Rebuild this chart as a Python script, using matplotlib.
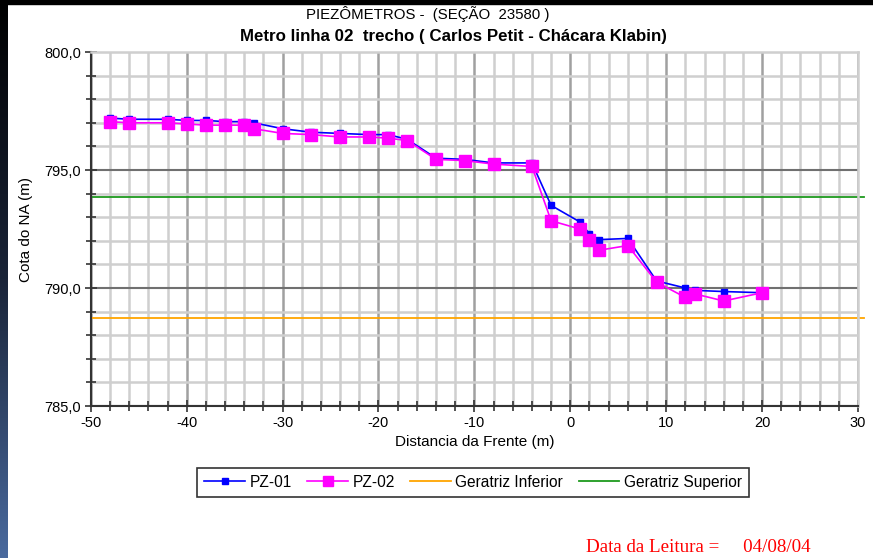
import numpy as np
import matplotlib.pyplot as plt
from matplotlib.patches import Rectangle
from matplotlib.ticker import FuncFormatter, MultipleLocator

# distances along the alignment (m)
dist = [-48, -46, -42, -40, -38, -36, -34, -33, -30, -27, -24, -21, -19, -17,
        -14, -11, -8, -4, -2, 1, 2, 3, 6, 9, 12, 13, 16, 20]

# water level readings (m)
pz01 = [797.20, 797.15, 797.15, 797.10, 797.10, 797.05, 797.05, 797.00, 796.75,
        796.60, 796.55, 796.50, 796.50, 796.30, 795.50, 795.45, 795.30, 795.30,
        793.50, 792.80, 792.30, 792.05, 792.10, 790.30, 790.00, 789.90, 789.85,
        789.80]
pz02 = [797.05, 797.00, 797.00, 796.95, 796.90, 796.90, 796.90, 796.75, 796.55,
        796.50, 796.40, 796.40, 796.35, 796.25, 795.45, 795.40, 795.25, 795.15,
        792.85, 792.50, 792.05, 791.60, 791.80, 790.25, 789.60, 789.75, 789.45,
        789.80]

geratriz_inferior = 788.75
geratriz_superior = 793.85

plt.rcParams['font.family'] = ['Liberation Sans', 'DejaVu Sans']
plt.rcParams['axes.unicode_minus'] = False

fig = plt.figure(figsize=(8.73, 5.58), dpi=100)
fig.patch.set_facecolor('white')

# slide background: dark band on top, blue gradient strip on the left
fig.patches.append(Rectangle((0, 1 - 4 / 558), 1, 4 / 558, transform=fig.transFigure,
                             color='black', zorder=0))
strip = fig.add_axes([0, 0, 8 / 873, 1])
strip.imshow(np.linspace(0, 1, 256).reshape(-1, 1), aspect='auto',
             cmap=plt.matplotlib.colors.LinearSegmentedColormap.from_list(
                 'bg', ['#000000', '#1a2438', '#4a6a9e']))
strip.set_axis_off()

ax = fig.add_axes([0.104, 0.2724, 0.8788, 0.6344])
ax.set_xlim(-50, 30)
ax.set_ylim(785, 800)

ax.xaxis.set_major_locator(MultipleLocator(10))
ax.xaxis.set_minor_locator(MultipleLocator(2))
ax.yaxis.set_major_locator(MultipleLocator(5))
ax.yaxis.set_minor_locator(MultipleLocator(1))
ax.yaxis.set_major_formatter(FuncFormatter(lambda v, p: f'{v:.1f}'.replace('.', ',')))

ax.grid(which='minor', color='#cfcfcf', linewidth=1.8, zorder=0)
ax.grid(which='major', axis='x', color='#a0a0a0', linewidth=1.8, zorder=0)
ax.grid(which='major', axis='y', color='#707070', linewidth=1.5, zorder=0)
ax.set_axisbelow(True)

for side in ['top', 'right']:
    ax.spines[side].set_color('#cfcfcf')
    ax.spines[side].set_linewidth(1.8)
for side in ['left', 'bottom']:
    ax.spines[side].set_color('#333333')
    ax.spines[side].set_linewidth(1.5)

ax.tick_params(which='both', direction='inout', color='#333333', width=1.2,
               labelsize=10.5, pad=3)
ax.tick_params(which='major', length=8)
ax.tick_params(which='minor', length=7)

ax.plot([-50, 30.6], [geratriz_inferior] * 2, color='#ffa500', lw=1.3,
        clip_on=False, zorder=2, label='Geratriz Inferior')
ax.plot([-50, 30.6], [geratriz_superior] * 2, color='#1e9a1e', lw=1.3,
        clip_on=False, zorder=2, label='Geratriz Superior')
ax.plot(dist, pz01, color='#0000ff', lw=1.2, marker='s', markersize=5,
        zorder=3, label='PZ-01')
ax.plot(dist, pz02, color='#ff00ff', lw=1.2, marker='s', markersize=9,
        zorder=4, label='PZ-02')

ax.set_xlabel('Distancia da Frente (m)', fontsize=11, labelpad=4)
ax.set_ylabel('Cota do NA (m)', fontsize=11, labelpad=8)

fig.text(0.490, 0.975, 'PIEZÔMETROS -  (SEÇÃO  23580 )', ha='center', va='center',
         fontsize=10.8)
fig.text(0.519, 0.935, 'Metro linha 02  trecho ( Carlos Petit - Chácara Klabin)',
         ha='center', va='center', fontsize=12.2, fontweight='bold')

handles, labels = ax.get_legend_handles_labels()
order = [2, 3, 0, 1]
leg = fig.legend([handles[i] for i in order], [labels[i] for i in order],
                 loc='center', bbox_to_anchor=(0.542, 0.136), ncol=4,
                 frameon=True, fancybox=False, edgecolor='black', fontsize=11.2,
                 handlelength=2.6, handletextpad=0.3, columnspacing=1.0,
                 borderpad=0.45, markerscale=0.8)
leg.get_frame().set_linewidth(1.2)

fig.text(0.671, 0.018, 'Data da Leitura =     04/08/04', color='#ff0000',
         fontsize=13.7, family=['Liberation Serif', 'DejaVu Serif'], va='center')

fig.savefig('out.png', dpi=100)
